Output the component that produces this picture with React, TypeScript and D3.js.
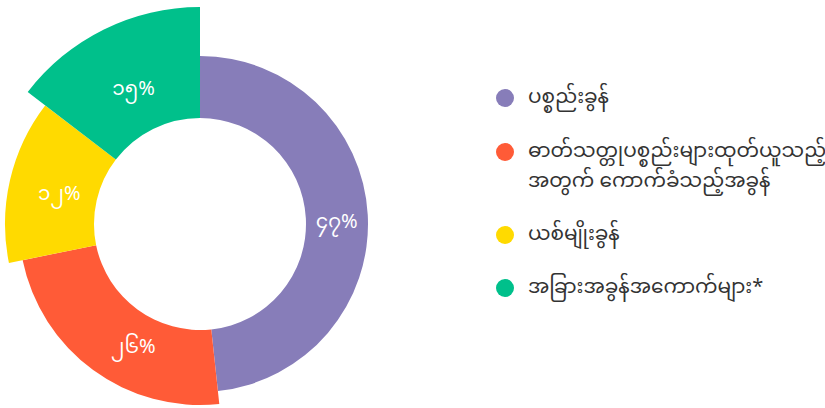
import React from "react";
import * as d3 from "d3";

const categories = [
  "ပစ္စည်းခွန်",
  "ဓာတ်သတ္တုပစ္စည်းများထုတ်ယူသည့် အတွက် ကောက်ခံသည့်အခွန်",
  "ယစ်မျိုးခွန်",
  "အခြားအခွန်အကောက်များ*",
];
const legendLines = [
  ["ပစ္စည်းခွန်"],
  ["ဓာတ်သတ္တုပစ္စည်းများထုတ်ယူသည့်", "အတွက် ကောက်ခံသည့်အခွန်"],
  ["ယစ်မျိုးခွန်"],
  ["အခြားအခွန်အကောက်များ*"],
];
// slice shares as drawn in the picture (angles), and the printed labels
const shareValues = [48.3, 23.5, 13.6, 14.6];
const valueLabels = ["၄၇%", "၂၆%", "၁၂%", "၁၅%"];
const colors = ["#877DB9", "#FF5B37", "#FFDA00", "#00C08B"];
const outerRadii = [168, 181, 195, 217];

const LABEL_NUDGE: [number, number][] = [
  [0, 6],
  [18, 8],
  [6, 4],
  [5, 10],
];

const FONT = "'Noto Sans Myanmar', 'Padauk', 'Myanmar Text', 'Noto Sans', sans-serif";

export default function App() {
  const cx = 200;
  const cy = 224;
  const inner = 106;
  const pie = d3.pie<number>().sort(null).value((d) => d);
  const arcs = pie(shareValues);
  const legendY = [98, 152, 235, 288];
  return (
    <svg
      width={825}
      height={408}
      style={{ position: "absolute", left: 0, top: 0, background: "#fff" }}
      fontFamily={FONT}
    >
      <g transform={`translate(${cx},${cy})`}>
        {arcs.map((a, i) => {
          const arc = d3.arc<d3.PieArcDatum<number>>().innerRadius(inner).outerRadius(outerRadii[i]);
          const [lx, ly] = arc.centroid(a);
          return (
            <g key={i}>
              <path d={arc(a) || ""} fill={colors[i]} />
              <text
                x={lx + LABEL_NUDGE[i][0]}
                y={ly + LABEL_NUDGE[i][1]}
                fill="#fff"
                fontSize={20}
                textAnchor="middle"
                dominantBaseline="middle"
              >
                {valueLabels[i]}
              </text>
            </g>
          );
        })}
      </g>
      {categories.map((c, i) => (
        <g key={c} transform={`translate(505,${legendY[i]})`}>
          <circle r={9} fill={colors[i]} />
          {legendLines[i].map((ln, j) => (
            <text key={j} x={23} y={j * 30} fontSize={20} fill="#333" dominantBaseline="middle">
              {ln}
            </text>
          ))}
        </g>
      ))}
    </svg>
  );
}
